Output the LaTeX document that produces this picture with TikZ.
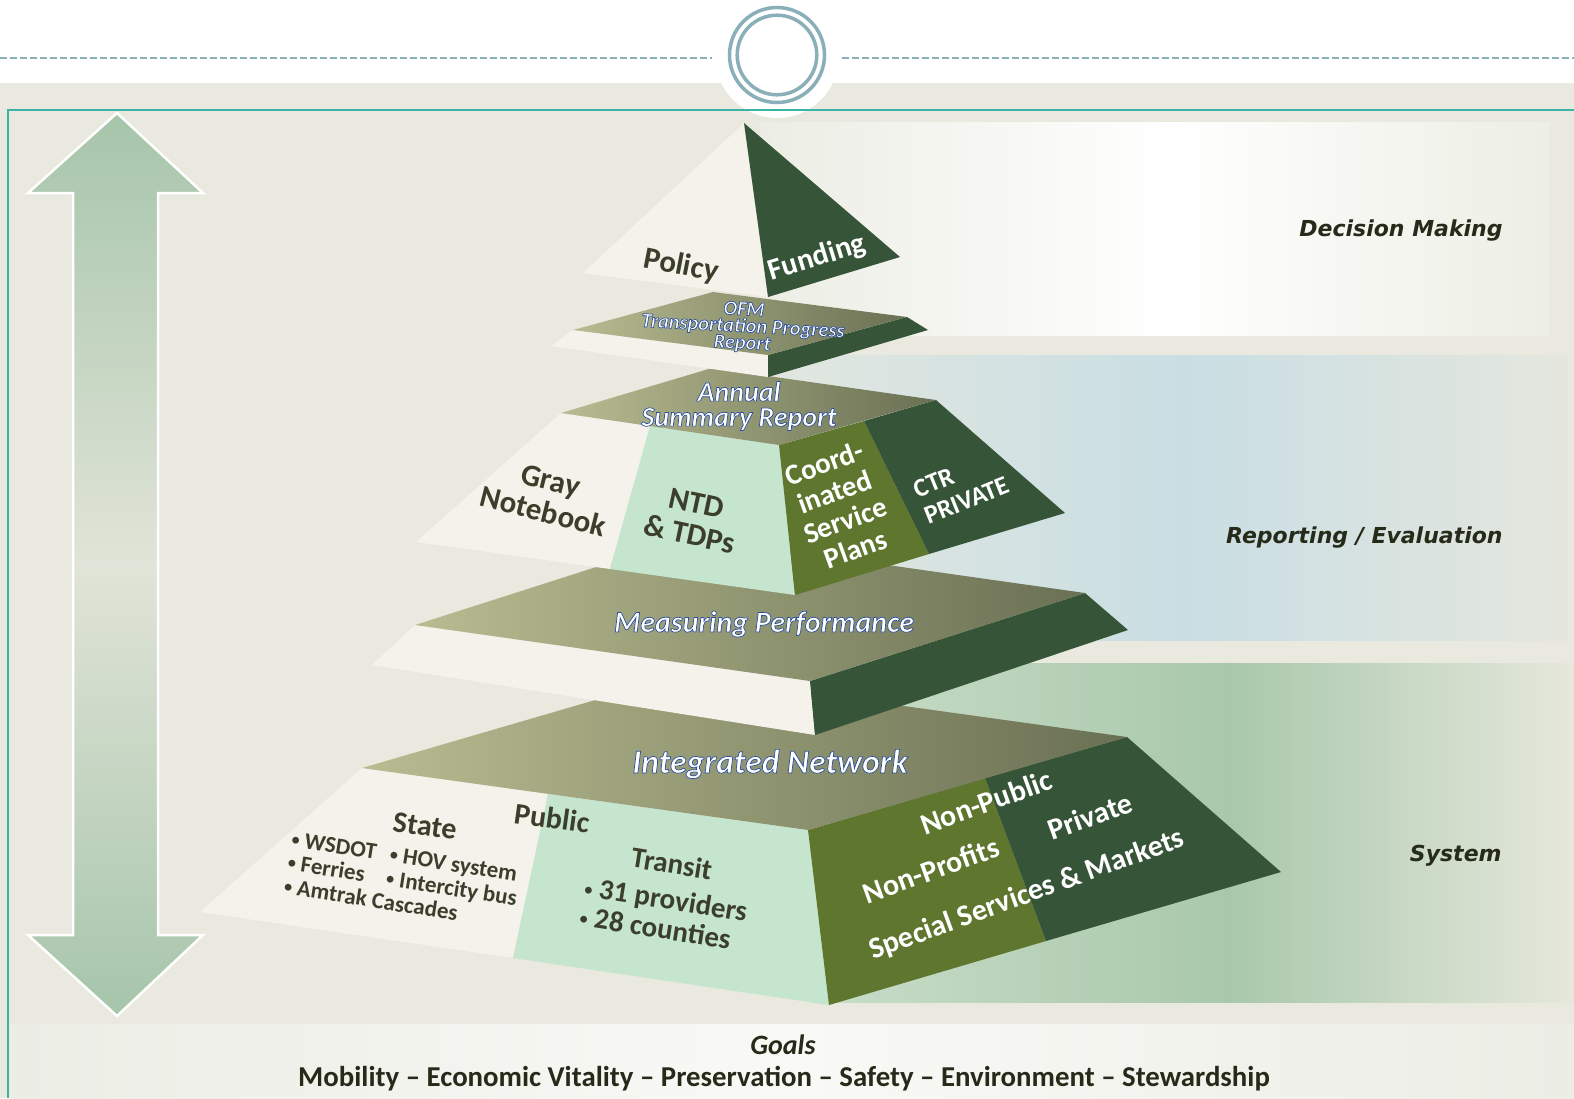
\documentclass[tikz,border=0pt]{standalone}
\usepackage{fontspec}
\setmainfont{Carlito}
\newfontfamily\rlab{DejaVu Sans}
\newfontfamily\wafont{Carlito}
\definecolor{bg}{HTML}{E9E9DF}
\definecolor{ringc}{HTML}{8BAFB9}
\definecolor{tealc}{HTML}{3DB2A6}
\definecolor{pyrW}{HTML}{F4F2EA}
\definecolor{mint}{HTML}{C6E5CF}
\definecolor{oliv}{HTML}{5E762E}
\definecolor{dkg}{HTML}{365437}
\definecolor{topL}{HTML}{B8BC91}
\definecolor{topR}{HTML}{6A7053}
\definecolor{txtD}{HTML}{3B3E2A}
\definecolor{lblD}{HTML}{262A19}
\definecolor{arrA}{HTML}{A6C5AA}
\definecolor{arrB}{HTML}{E1E4D8}
\definecolor{bAl}{HTML}{ECEDE4}
\definecolor{bAr}{HTML}{EDEEE4}
\definecolor{bBl}{HTML}{E2E7E0}
\definecolor{bBm}{HTML}{C9DEE3}
\definecolor{bBr}{HTML}{E5E7DE}
\definecolor{bCl}{HTML}{C8DCC7}
\definecolor{bCm}{HTML}{A9C8AB}
\definecolor{bCr}{HTML}{E6E8DC}
\definecolor{gL}{HTML}{ECEDE5}
\definecolor{gM}{HTML}{F9F9F6}
\pgfdeclarehorizontalshading{bandA}{100bp}{color(0bp)=(bAl); color(25bp)=(bAl); color(51bp)=(white); color(75bp)=(bAr); color(100bp)=(bAr)}
\pgfdeclarehorizontalshading{bandB}{100bp}{color(0bp)=(bBl); color(25bp)=(bBl); color(51bp)=(bBm); color(75bp)=(bBr); color(100bp)=(bBr)}
\pgfdeclarehorizontalshading{bandC}{100bp}{color(0bp)=(bCl); color(25bp)=(bCl); color(52bp)=(bCm); color(75bp)=(bCr); color(100bp)=(bCr)}
\pgfdeclarehorizontalshading{bandG}{100bp}{color(0bp)=(gL); color(25bp)=(gL); color(50bp)=(gM); color(75bp)=(gL); color(100bp)=(gL)}
\pgfdeclareverticalshading{arrowsh}{100bp}{color(0bp)=(arrA); color(25bp)=(arrA); color(50bp)=(arrB); color(75bp)=(arrA); color(100bp)=(arrA)}
\newcommand{\olon}{\special{pdf:literal direct 0.17 0.31 0.62 RG 2 Tr 0.35 w}}
\newcommand{\oloff}{\special{pdf:literal direct 0 Tr}}
\newcommand{\bul}{{\fontsize{8}{8}\selectfont\raisebox{1pt}{•}}}
\tikzset{
  topface/.style={left color=topL, right color=topR},
  dk/.style={text=txtD, font=\bfseries\fontsize{15.5}{16}\selectfont, inner sep=0pt},
  wt/.style={text=white, font=\bfseries\fontsize{15}{15.2}\selectfont, inner sep=0pt},
  wa/.style={text=white, inner sep=0pt},
  rl/.style={text=lblD, anchor=east, inner sep=0pt, font=\rlab\bfseries\itshape\fontsize{11}{13}\selectfont}
}
\begin{document}
\begin{tikzpicture}[x=0.5pt,y=-0.5pt]
\useasboundingbox (0,0) rectangle (1574,1098);
% background
\fill[bg] (0,0) rectangle (1574,1098);
\fill[white] (0,0) rectangle (1574,83);
% bands
\shade[shading=bandA] (760,122) rectangle (1550,335);
\shade[shading=bandB] (770,355) rectangle (1568,640);
\shade[shading=bandC] (826,663) rectangle (1574,1002);
\shade[shading=bandG] (10,1024) rectangle (1574,1098);
% header
\fill[white] (777,56) circle[radius=62];
\draw[ringc, line width=0.75pt, dash pattern=on 3.5pt off 1.5pt] (0,58) -- (712,58);
\draw[ringc, line width=0.75pt, dash pattern=on 3.5pt off 1.5pt] (842,58) -- (1574,58);
\draw[ringc, line width=1.75pt] (777,55) circle[radius=47.5];
\draw[ringc, line width=1.75pt] (777,55) circle[radius=39.8];
\draw[tealc, line width=0.75pt] (8,1098) -- (8,110) -- (1574,110);
% double arrow
\shadedraw[shading=arrowsh, draw=white, line width=1.25pt, line join=miter]
  (117,113) -- (203,193) -- (158,193) -- (158,935) -- (203,935) -- (117,1016)
  -- (28,935) -- (73,935) -- (73,193) -- (28,193) -- cycle;
% tier 5
\fill[pyrW] (362,768) -- (548,794) -- (513,958) -- (200,912) -- cycle;
\fill[mint] (548,794) -- (808,830) -- (829,1005) -- (513,958) -- cycle;
\fill[oliv] (808,830) -- (985,778) -- (1046,941) -- (829,1005) -- cycle;
\fill[dkg] (985,778) -- (1127,737) -- (1281,872) -- (1046,941) -- cycle;
\shade[topface] (362,768) -- (681,675) -- (1127,737) -- (808,830) -- cycle;
% tier 4
\fill[pyrW] (415,625) -- (810,681) -- (815,735) -- (372,665) -- cycle;
\fill[dkg] (810,681) -- (1085,593) -- (1128,630) -- (815,735) -- cycle;
\shade[topface] (415,625) -- (690,537) -- (1085,593) -- (810,681) -- cycle;
% tier 3
\fill[pyrW] (561,413) -- (650,426) -- (610,569) -- (416,542) -- cycle;
\fill[mint] (650,426) -- (779,445) -- (795,595) -- (610,569) -- cycle;
\fill[oliv] (779,445) -- (864,421) -- (929,554) -- (795,595) -- cycle;
\fill[dkg] (864,421) -- (936,400) -- (1065,513) -- (929,554) -- cycle;
\shade[topface] (561,413) -- (712,368) -- (936,400) -- (779,445) -- cycle;
% tier 2
\fill[pyrW] (573,330) -- (768,355) -- (768,377) -- (551,346) -- cycle;
\fill[dkg] (768,355) -- (907,317) -- (928,330) -- (768,377) -- cycle;
\shade[topface] (573,330) -- (713,292) -- (907,317) -- (768,355) -- cycle;
% tier 1
\fill[pyrW] (744,123) -- (768,297) -- (583,273) -- cycle;
\fill[dkg] (744,123) -- (900,257) -- (768,297) -- cycle;
% labels on pyramid
\node[dk, rotate=-11] (policy) at (681,266) {Policy};
\node[wt, rotate=17] (funding) at (817,258) {Funding};
\node[wa, rotate=-3, align=center, font=\wafont\bfseries\itshape\fontsize{10.2}{8.4}\selectfont] (ofm) at (743,327) {\olon OFM\\Transportation Progress\\Report\oloff};
\node[wa, align=center, font=\wafont\bfseries\itshape\fontsize{14}{12.5}\selectfont] (asr) at (739,406) {\olon Annual\\Summary Report\oloff};
\node[dk, rotate=-14, align=center] (gray) at (547,496) {Gray\\Notebook};
\node[dk, rotate=-12, align=center] (ntd) at (693,519) {NTD\\\& TDPs};
\node[wt, rotate=20, align=center, font=\bfseries\fontsize{14.5}{15.2}\selectfont] (csp) at (840,506) {Coord-\\inated\\Service\\Plans};
\node[wt, rotate=22, align=left, font=\bfseries\fontsize{13}{14.5}\selectfont] (ctr) at (961,487) {CTR\\PRIVATE};
\node[wa, font=\wafont\bfseries\itshape\fontsize{15}{18}\selectfont] (mp) at (764,624) {\olon Measuring Performance\oloff};
\node[wa, font=\wafont\bfseries\itshape\fontsize{16.8}{20}\selectfont] (inet) at (770,764) {\olon Integrated Network\oloff};
\node[dk, rotate=-8, font=\bfseries\fontsize{15}{16}\selectfont] (state) at (425,826) {State};
\node[dk, rotate=-8, font=\bfseries\fontsize{15}{16}\selectfont] (public) at (552,818) {Public};
\node[dk, rotate=-9, anchor=north west, font=\bfseries\fontsize{11.5}{12}\selectfont] (stlist) at (293,829)
  {\begin{tabular}{@{}l@{\hspace{7pt}}l@{}}\bul{} WSDOT & \bul{} HOV system\\ \bul{} Ferries & \bul{} Intercity bus\\ \multicolumn{2}{@{}l@{}}{\bul{} Amtrak Cascades}\end{tabular}};
\node[dk, rotate=-9, font=\bfseries\fontsize{14.5}{15}\selectfont] (transit) at (666,900)
  {\begin{tabular}{@{}l@{}}\multicolumn{1}{@{}c@{}}{Transit}\\[3pt] \bul{} 31 providers\\ \bul{} 28 counties\end{tabular}};
\node[wt, rotate=20] (npub) at (986,802) {Non-Public};
\node[wt, rotate=20] (priv) at (1090,816) {Private};
\node[wt, rotate=20] (nprof) at (931,870) {Non-Profits};
\node[wt, rotate=20] (ssm) at (1027,895) {Special Services \& Markets};
% right labels
\node[rl] (dm) at (1503,231) {Decision Making};
\node[rl] (re) at (1503,538) {Reporting / Evaluation};
\node[rl] (sys) at (1502,856) {System};
% goals
\node[text=lblD, inner sep=0pt, font=\bfseries\itshape\fontsize{14}{16}\selectfont] (goals) at (783,1045) {Goals};
\node[text=lblD, inner sep=0pt, font=\bfseries\fontsize{14.4}{16}\selectfont] (goallist) at (784,1079) {Mobility -- Economic Vitality -- Preservation -- Safety -- Environment -- Stewardship};
\end{tikzpicture}
\end{document}
